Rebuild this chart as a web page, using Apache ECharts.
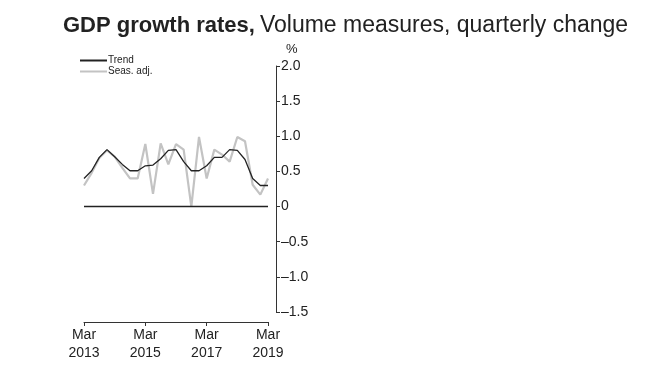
<!DOCTYPE html>
<html>
<head>
<meta charset="utf-8">
<script src="https://cdn.jsdelivr.net/npm/echarts@6/dist/echarts.min.js"></script>
<style>html,body{margin:0;padding:0;background:#fff;}#c{width:650px;height:372px;}</style>
</head>
<body>
<div id="c"></div>
<script>
var categories = ['Mar\n2013','Jun 2013','Sep 2013','Dec 2013','Mar\n2014','Jun 2014','Sep 2014','Dec 2014',
  'Mar\n2015','Jun 2015','Sep 2015','Dec 2015','Mar\n2016','Jun 2016','Sep 2016','Dec 2016',
  'Mar\n2017','Jun 2017','Sep 2017','Dec 2017','Mar\n2018','Jun 2018','Sep 2018','Dec 2018','Mar\n2019'];
var trend = [0.40,0.51,0.70,0.81,0.71,0.60,0.51,0.51,0.58,0.59,0.68,0.80,0.81,0.64,0.51,0.51,0.58,0.70,0.70,0.81,0.80,0.67,0.40,0.30,0.30];
var seasAdj = [0.30,0.48,0.69,0.80,0.71,0.55,0.40,0.40,0.89,0.18,0.90,0.60,0.89,0.81,0.00,0.99,0.40,0.81,0.74,0.64,0.99,0.93,0.31,0.17,0.40];
var yTickLabels = {'-1.5':'\u20131.5','-1':'\u20131.0','-0.5':'\u20130.5','0':'0','0.5':'0.5','1':'1.0','1.5':'1.5','2':'2.0'};

var FONT = 'Liberation Sans, Arial, sans-serif';
var chart = echarts.init(document.getElementById('c'), null, {renderer:'canvas'});
chart.setOption({
  animation: false,
  backgroundColor: '#fff',
  title: {
    left: 58, top: 9,
    text: '{b|GDP growth rates,} {n|Volume measures, quarterly change}',
    textStyle: {
      fontWeight: 'normal',
      rich: {
        b: {fontFamily: FONT, fontSize: 22, fontWeight: 'bold', color: '#222'},
        n: {fontFamily: FONT, fontSize: 23, fontWeight: 'normal', color: '#222'}
      }
    }
  },
  legend: {
    left: 75, top: 50, orient: 'vertical', itemWidth: 27, itemHeight: 2, itemGap: 0, icon: 'rect',
    textStyle: {fontFamily: FONT, fontSize: 10, color: '#222', padding: [0,0,0,-4], lineHeight: 11},
    data: [{name:'Trend'},{name:'Seas. adj.'}]
  },
  grid: [
    {left: 84, width: 184, top: 66, height: 246},
    {left: 84, width: 192, top: 66, height: 246}
  ],
  xAxis: [
    {gridIndex: 0, type: 'category', data: categories, boundaryGap: false, offset: 10,
     axisLine: {onZero: false, lineStyle: {color: '#333', width: 1}},
     axisTick: {interval: 7, length: 4, inside: false, lineStyle: {color: '#333'}},
     axisLabel: {interval: 7, fontFamily: FONT, fontSize: 14, color: '#222', lineHeight: 18, margin: 4},
     splitLine: {show: false}},
    {gridIndex: 1, type: 'category', data: categories, show: false}
  ],
  yAxis: [
    {gridIndex: 0, type: 'value', min: -1.5, max: 2, interval: 0.5, show: false, splitLine: {show: false}},
    {gridIndex: 1, type: 'value', min: -1.5, max: 2, interval: 0.5, position: 'right',
     name: '%', nameLocation: 'end', nameGap: 10,
     nameTextStyle: {fontFamily: FONT, fontSize: 13, color: '#222', align: 'left', padding: [0,0,0,10]},
     axisLine: {show: true, lineStyle: {color: '#333', width: 1}},
     axisTick: {show: true, length: 4, inside: false, lineStyle: {color: '#333'}},
     axisLabel: {fontFamily: FONT, fontSize: 14, color: '#222', margin: 5,
       formatter: function (v) { return yTickLabels[String(v)] !== undefined ? yTickLabels[String(v)] : String(v); }},
     splitLine: {show: false}}
  ],
  series: [
    {name: 'Seas. adj.', type: 'line', xAxisIndex: 0, yAxisIndex: 0, data: seasAdj,
     symbol: 'none', lineStyle: {color: '#c3c3c3', width: 2.2}, itemStyle: {color: '#c3c3c3'}, z: 2},
    {name: 'Trend', type: 'line', xAxisIndex: 0, yAxisIndex: 0, data: trend,
     symbol: 'none', lineStyle: {color: '#222', width: 1.3}, itemStyle: {color: '#222'}, z: 3,
     markLine: {silent: true, symbol: 'none', label: {show: false},
       lineStyle: {color: '#222', width: 1.3, type: 'solid'}, data: [{yAxis: 0}]}}
  ]
});
</script>
</body>
</html>
